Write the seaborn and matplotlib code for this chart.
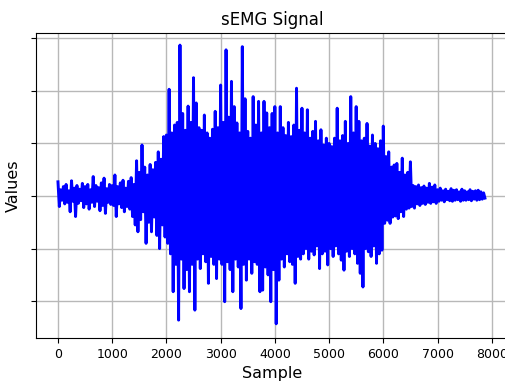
import numpy as np
import pandas as pd
import matplotlib
matplotlib.use("Agg")
import matplotlib.pyplot as plt
import seaborn as sns

# Envelope readings (value units = y-grid spacing), one pair per 50-sample step
upper = [
    0.27, 0.12, 0.18, 0.22, 0.10, 0.29, 0.15, 0.20, 0.13, 0.24,
    0.18, 0.22, 0.12, 0.37, 0.20, 0.16, 0.25, 0.34, 0.14, 0.22,
    0.20, 0.40, 0.18, 0.25, 0.30, 0.15, 0.28, 0.35, 0.22, 0.67,
    0.45, 0.97, 0.55, 0.40, 0.60, 0.50, 0.64, 0.84, 0.70, 1.13,
    1.16, 2.03, 1.20, 1.35, 1.40, 2.87, 1.57, 1.25, 1.71, 1.40,
    2.25, 1.77, 1.30, 1.25, 1.54, 1.20, 1.10, 1.27, 1.61, 1.30,
    2.11, 1.40, 2.78, 1.50, 2.18, 1.70, 1.39, 1.20, 2.84, 1.85,
    1.23, 1.10, 1.89, 1.35, 1.80, 1.20, 1.80, 1.58, 1.30, 1.57,
    1.70, 1.20, 1.70, 1.30, 1.15, 1.40, 1.13, 1.35, 2.05, 1.25,
    1.67, 1.20, 1.64, 1.10, 1.23, 1.42, 1.05, 1.26, 0.97, 1.10,
    1.00, 0.94, 1.10, 1.67, 1.05, 1.15, 1.42, 1.00, 1.89, 1.20,
    1.70, 1.42, 1.05, 1.10, 1.38, 0.95, 1.16, 1.00, 0.90, 1.05,
    1.33, 0.75, 0.84, 0.55, 0.59, 0.62, 0.45, 0.72, 0.40, 0.45,
    0.65, 0.20, 0.18, 0.21, 0.16, 0.19, 0.15, 0.24, 0.17, 0.21,
    0.12, 0.15, 0.10, 0.13, 0.09, 0.14, 0.11, 0.12, 0.08, 0.13,
    0.10, 0.08, 0.12, 0.09, 0.10, 0.11, 0.08, 0.06,
]
lower = [
    -0.20, -0.08, -0.15, -0.12, -0.30, -0.10, -0.39, -0.14, -0.09, -0.22,
    -0.15, -0.25, -0.12, -0.20, -0.10, -0.28, -0.18, -0.33, -0.12, -0.16,
    -0.18, -0.39, -0.15, -0.22, -0.30, -0.20, -0.25, -0.39, -0.55, -0.68,
    -0.45, -0.30, -0.90, -0.50, -0.68, -0.40, -0.75, -1.00, -0.55, -0.78,
    -0.90, -1.10, -1.82, -1.30, -2.36, -1.20, -1.76, -1.40, -1.82, -1.30,
    -2.17, -1.20, -1.38, -1.10, -1.25, -1.66, -1.15, -1.30, -1.57, -1.20,
    -1.30, -2.01, -1.25, -1.40, -1.82, -1.20, -1.35, -2.14, -1.30, -1.60,
    -1.20, -1.47, -1.25, -1.30, -1.82, -1.79, -1.35, -1.50, -2.01, -1.40,
    -2.43, -1.60, -1.20, -1.35, -1.10, -1.25, -1.30, -1.66, -1.15, -1.20,
    -1.10, -1.00, -1.20, -1.05, -1.12, -0.95, -1.38, -1.10, -1.05, -1.31,
    -1.00, -1.15, -0.95, -1.10, -1.22, -1.41, -1.05, -1.15, -1.00, -1.10,
    -1.28, -1.47, -1.73, -1.00, -1.06, -1.15, -0.95, -1.28, -1.10, -1.03,
    -0.52, -0.46, -0.52, -0.40, -0.38, -0.43, -0.30, -0.39, -0.25, -0.23,
    -0.20, -0.23, -0.15, -0.18, -0.14, -0.16, -0.12, -0.14, -0.11, -0.14,
    -0.10, -0.08, -0.11, -0.07, -0.09, -0.10, -0.08, -0.07, -0.10, -0.08,
    -0.08, -0.07, -0.09, -0.06, -0.08, -0.07, -0.06, -0.04,
]
step = 50
x_ticks = [0, 1000, 2000, 3000, 4000, 5000, 6000, 7000, 8000]
y_ticks = [-2, -1, 0, 1, 2, 3]

# Interleave the read peaks into a single sample/value table
vals = []
samples = []
for i, (u, l) in enumerate(zip(upper, lower)):
    samples += [i * step, i * step + step // 2]
    vals += [u, l]
df = pd.DataFrame({"Sample": samples, "Values": vals})

fig = plt.figure(figsize=(5.05, 3.86), dpi=100)
ax = fig.add_axes([36 / 505, 48 / 386, 472 / 505, 305 / 386])
sns.lineplot(data=df, x="Sample", y="Values", estimator=None, sort=False,
             color="blue", linewidth=2.1, ax=ax)
ax.set_xlim(-405, 8300)
ax.set_ylim(-2.7, 3.1)
ax.set_xticks(x_ticks)
ax.set_yticks(y_ticks)
ax.set_yticklabels([])
ax.tick_params(labelsize=9)
ax.grid(True, color="#b8b8b8", linewidth=1.0)
ax.set_title("sEMG Signal", fontsize=12)
ax.set_xlabel("Sample", fontsize=11.5)
ax.set_ylabel("Values", fontsize=11.5)
fig.savefig("out.png", dpi=100)
